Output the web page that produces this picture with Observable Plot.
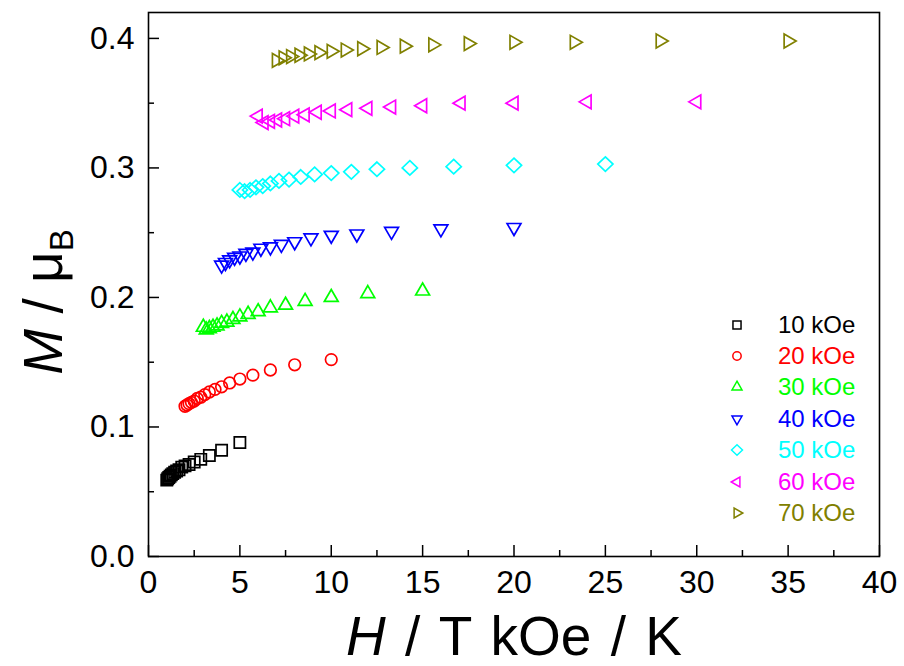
<!DOCTYPE html>
<html>
<head>
<meta charset="utf-8">
<script src="https://cdn.jsdelivr.net/npm/d3@7"></script>
<script src="https://cdn.jsdelivr.net/npm/@observablehq/plot@0.6"></script>
<style>
  html, body { margin: 0; padding: 0; background: #fff; }
  #wrap { position: relative; width: 904px; height: 666px; font-family: "Liberation Sans", Arial, sans-serif; }
  #legend { position: absolute; left: 722px; top: 309px; }
  .lrow { display: flex; align-items: center; height: 31.4px; font-size: 24px; }
  .lrow svg { width: 30px; height: 22px; margin-right: 26px; }
</style>
</head>
<body>
<div id="wrap"><div id="legend"></div></div>
<script>
// ---- data ----
const fields = ["10 kOe", "20 kOe", "30 kOe", "40 kOe", "50 kOe", "60 kOe", "70 kOe"];
const colors = ["#000000", "#ff0000", "#00ff00", "#0000ff", "#00ffff", "#ff00ff", "#808000"];
const shapes = ["square", "circle", "up", "down", "diamond", "left", "right"];

const hT10 = [1, 1.05, 1.11, 1.18, 1.25, 1.33, 1.43, 1.54, 1.67, 1.82, 2, 2.22, 2.5, 2.86, 3.33, 4, 5];
const m10  = [0.059, 0.060, 0.061, 0.062, 0.063, 0.064, 0.065, 0.066, 0.067, 0.069, 0.070, 0.071, 0.073, 0.075, 0.078, 0.082, 0.088];
const hT20 = [2, 2.11, 2.22, 2.35, 2.5, 2.67, 2.86, 3.08, 3.33, 3.64, 4, 4.44, 5, 5.71, 6.67, 8, 10];
const m20  = [0.116, 0.117, 0.118, 0.119, 0.120, 0.122, 0.123, 0.125, 0.127, 0.129, 0.131, 0.134, 0.137, 0.140, 0.144, 0.148, 0.152];
const hT30 = [3, 3.16, 3.33, 3.53, 3.75, 4, 4.29, 4.62, 5, 5.45, 6, 6.67, 7.5, 8.57, 10, 12, 15];
const m30  = [0.177, 0.175, 0.176, 0.177, 0.178, 0.180, 0.181, 0.183, 0.185, 0.187, 0.189, 0.192, 0.194, 0.197, 0.200, 0.203, 0.205];
const hT40 = [4, 4.21, 4.44, 4.71, 5, 5.33, 5.71, 6.15, 6.67, 7.27, 8, 8.89, 10, 11.4, 13.3, 16, 20];
const m40  = [0.225, 0.227, 0.229, 0.231, 0.232, 0.234, 0.235, 0.238, 0.239, 0.241, 0.243, 0.246, 0.248, 0.249, 0.251, 0.253, 0.254];
const hT50 = [5, 5.26, 5.56, 5.88, 6.25, 6.67, 7.14, 7.69, 8.33, 9.09, 10, 11.1, 12.5, 14.3, 16.7, 20, 25];
const m50  = [0.283, 0.282, 0.283, 0.285, 0.286, 0.288, 0.290, 0.291, 0.293, 0.295, 0.296, 0.297, 0.299, 0.300, 0.301, 0.302, 0.303];
const hT60 = [6, 6.32, 6.67, 7.06, 7.5, 8, 8.57, 9.23, 10, 10.9, 12, 13.3, 15, 17.1, 20, 24, 30];
const m60  = [0.340, 0.335, 0.336, 0.337, 0.338, 0.340, 0.341, 0.343, 0.344, 0.345, 0.346, 0.347, 0.348, 0.350, 0.350, 0.351, 0.351];
const hT70 = [7, 7.37, 7.78, 8.24, 8.75, 9.33, 10, 10.77, 11.67, 12.73, 14, 15.56, 17.5, 20, 23.3, 28, 35];
const m70  = [0.383, 0.385, 0.386, 0.387, 0.388, 0.389, 0.390, 0.391, 0.392, 0.393, 0.394, 0.395, 0.396, 0.397, 0.397, 0.398, 0.398];

const xTicks = [0, 5, 10, 15, 20, 25, 30, 35, 40];
const xTickLabels = ["0", "5", "10", "15", "20", "25", "30", "35", "40"];
const xMinor = [2.5, 7.5, 12.5, 17.5, 22.5, 27.5, 32.5, 37.5];
const yTicks = [0, 0.1, 0.2, 0.3, 0.4];
const yTickLabels = ["0.0", "0.1", "0.2", "0.3", "0.4"];
const yMinor = [0.05, 0.15, 0.25, 0.35];

const seriesX = [hT10, hT20, hT30, hT40, hT50, hT60, hT70];
const seriesY = [m10, m20, m30, m40, m50, m60, m70];

// ---- symbols ----
function makeSymbol(kind, k) {
  if (kind === "square") return {draw(c) { const s = 5.6 * k; c.rect(-s, -s, 2 * s, 2 * s); }};
  if (kind === "circle") return {draw(c) { const r = 5.8 * k; c.moveTo(r, 0); c.arc(0, 0, r, 0, 2 * Math.PI); c.closePath(); }};
  if (kind === "diamond") return {draw(c) { const a = 7.6 * k, b = 7.2 * k; c.moveTo(0, -b); c.lineTo(a, 0); c.lineTo(0, b); c.lineTo(-a, 0); c.closePath(); }};
  const ang = {right: 0, down: 90, left: 180, up: -90}[kind] * Math.PI / 180;
  return {draw(c) {
    const R = 8 * k;
    for (let i = 0; i < 3; i++) {
      const a = ang + i * 2 * Math.PI / 3;
      const px = R * Math.cos(a), py = R * Math.sin(a);
      if (i === 0) c.moveTo(px, py); else c.lineTo(px, py);
    }
    c.closePath();
  }};
}

const W = 904, H = 666;
const mL = 148, mR = 25, mT = 12, mB = 110;
const fh = H - mT - mB, fw = W - mL - mR;

const dotMarks = fields.map((f, i) => {
  const rows = seriesX[i].map((x, j) => ({x, y: seriesY[i][j]}));
  return Plot.dot(rows, {x: "x", y: "y", symbol: makeSymbol(shapes[i], 1), stroke: colors[i], strokeWidth: 1.7, fill: "none"});
});

const chart = Plot.plot({
  width: W, height: H,
  marginLeft: mL, marginRight: mR, marginTop: mT, marginBottom: mB,
  style: {fontFamily: '"Liberation Sans", Arial, sans-serif', background: "white", color: "black"},
  x: {domain: [0, 40]},
  y: {domain: [0, 0.42]},
  marks: [
    Plot.tickX(xTicks, {x: d => d, insetTop: fh - 11, stroke: "black", strokeWidth: 1.5}),
    Plot.tickX(xMinor, {x: d => d, insetTop: fh - 6, stroke: "black", strokeWidth: 1.5}),
    Plot.tickY(yTicks, {y: d => d, insetRight: fw - 11, stroke: "black", strokeWidth: 1.5}),
    Plot.tickY(yMinor, {y: d => d, insetRight: fw - 6, stroke: "black", strokeWidth: 1.5}),
    Plot.axisX({ticks: xTicks, tickFormat: (d, i) => xTickLabels[i], tickSize: 0, tickPadding: 14, fontSize: 32, label: null}),
    Plot.axisY({ticks: yTicks, tickFormat: (d, i) => yTickLabels[i], tickSize: 0, tickPadding: 14, fontSize: 32, label: null}),
    ...dotMarks,
    Plot.frame({stroke: "black", strokeWidth: 1.6})
  ]
});

const wrap = document.getElementById("wrap");
wrap.insertBefore(chart, wrap.firstChild);

// axis titles as real text
const svg = d3.select(chart);
const xt = svg.append("text")
  .attr("x", 514).attr("y", 655)
  .attr("text-anchor", "middle")
  .style("font-size", "55px").style("word-spacing", "4px")
  .style("font-family", '"Liberation Sans", Arial, sans-serif').attr("fill", "black");
xt.append("tspan").style("font-style", "italic").text("H");
xt.append("tspan").text(" / T kOe / K");

const yt = svg.append("text")
  .attr("transform", "translate(62,302) rotate(-90)")
  .attr("text-anchor", "middle")
  .style("font-size", "55px").style("font-family", '"Liberation Sans", Arial, sans-serif').attr("fill", "black");
yt.append("tspan").style("font-style", "italic").text("M");
yt.append("tspan").text(" / μ");
yt.append("tspan").attr("dy", 11).style("font-size", "33px").text("B");

// legend
const leg = d3.select("#legend");
fields.forEach((f, i) => {
  const row = leg.append("div").attr("class", "lrow").style("color", colors[i]);
  const s = row.append("svg").attr("viewBox", "-15 -11 30 22");
  const p = d3.path();
  makeSymbol(shapes[i], 0.72).draw(p);
  s.append("path").attr("d", p.toString()).attr("fill", "none").attr("stroke", colors[i]).attr("stroke-width", 1.5);
  row.append("span").text(f);
});
</script>
</body>
</html>
